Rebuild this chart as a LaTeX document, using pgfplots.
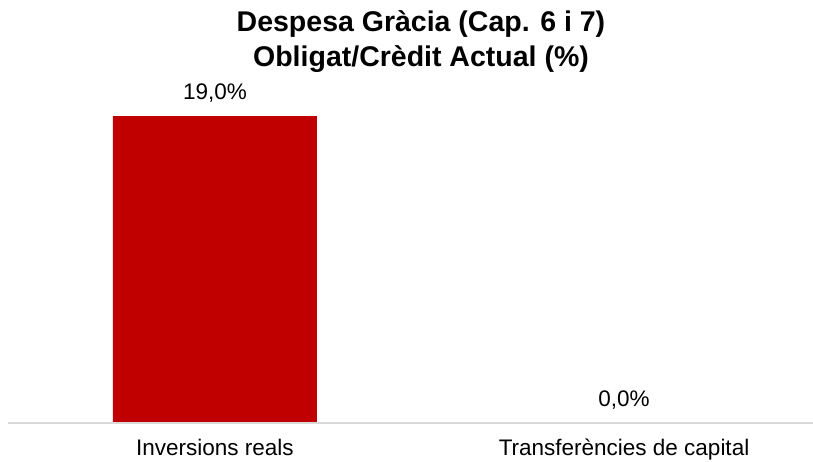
\documentclass[border=0pt]{standalone}
\usepackage{pgfplots}
\pgfplotsset{compat=1.18}
\usepackage{fontspec}
\setmainfont{Liberation Sans}
\definecolor{barred}{HTML}{C00000}
\definecolor{axgray}{HTML}{D9D9D9}
\begin{document}
\begin{tikzpicture}[x=1bp,y=1bp]
\useasboundingbox (0,0) rectangle (813,462);
\begin{axis}[
  at={(8bp,39bp)}, anchor=south west,
  scale only axis, width=805bp, height=323bp,
  xmin=-0.506, xmax=1.462, ymin=0, ymax=20,
  ybar, bar width=204bp, bar shift=0pt,
  axis line style={draw=none},
  axis x line*=bottom,
  ytick=\empty,
  xtick={0,1}, xticklabels={Inversions reals, Transferències de capital},
  xtick style={draw=none},
  xticklabel style={font=\fontsize{22.5bp}{26bp}\selectfont, yshift=-8bp},
  /pgf/number format/assume math mode=true,
  nodes near coords={\pgfmathprintnumber[fixed,fixed zerofill,precision=1,use comma]{\pgfplotspointmeta}\%},
  nodes near coords style={font=\fontsize{22.5bp}{26bp}\selectfont, yshift=10bp, text=black},
  clip=false,
]
\addplot[fill=barred, draw=none] coordinates {(0,19.0) (1,0.0)};
\draw[axgray, line width=1.5bp] (axis cs:-0.506,0) -- (axis cs:1.462,0);
\end{axis}
\node[font=\bfseries\fontsize{28.5bp}{35bp}\selectfont, align=center, anchor=center] at (421,420) {Despesa Gràcia (Cap. 6 i 7)\\Obligat/Crèdit Actual (\%)};
\end{tikzpicture}
\end{document}
